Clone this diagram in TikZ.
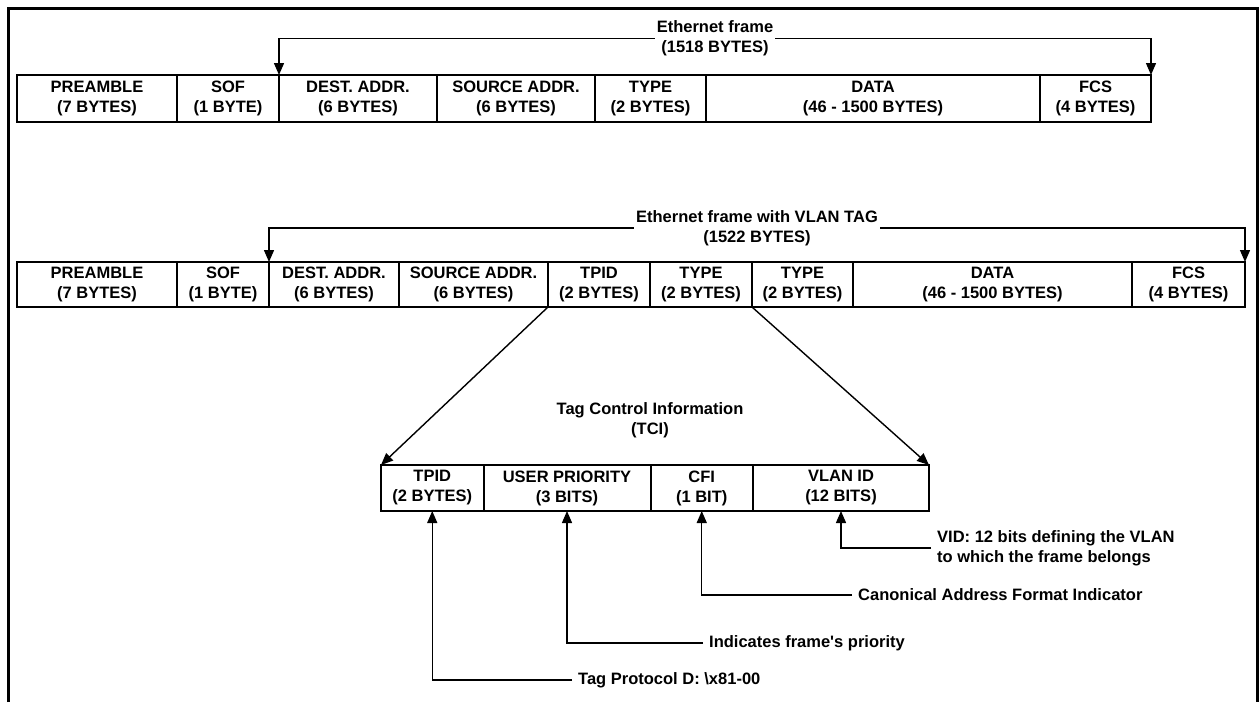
\documentclass[tikz,border=0pt]{standalone}
\usepackage{fontspec}
\setmainfont{Liberation Sans}
\usetikzlibrary{arrows.meta}
\newcommand\cellbox[6]{\node[cell, minimum width=#3pt-#2pt, minimum height=#5pt-#4pt] (#1) at ({(#2+#3)/2},{(#4+#5)/2}) {#6};}
\begin{document}
\begin{tikzpicture}[x=1pt,y=-1pt,
  font=\fontsize{16.5}{20}\selectfont\bfseries,
  cell/.style={draw, line width=2pt, align=center, inner sep=0pt, outer sep=0pt},
  conn/.style={line width=1.4pt, -{Triangle[length=12pt,width=10pt]}},
  lbl/.style={fill=white, align=center, inner sep=2pt},
  note/.style={anchor=west, align=left, inner sep=6pt}]
\useasboundingbox (0,0) rectangle (1259,702);
\draw[line width=3pt] (8,702) -- (8,8) -- (1257,8) -- (1257,702);
% row 1
\cellbox{p1}{17}{177}{75}{122}{PREAMBLE\\(7 BYTES)}
\cellbox{s1}{177}{279}{75}{122}{SOF\\(1 BYTE)}
\cellbox{d1}{279}{437}{75}{122}{DEST. ADDR.\\(6 BYTES)}
\cellbox{sa1}{437}{595}{75}{122}{SOURCE ADDR.\\(6 BYTES)}
\cellbox{t1}{595}{706}{75}{122}{TYPE\\(2 BYTES)}
\cellbox{da1}{706}{1040}{75}{122}{DATA\\(46 - 1500 BYTES)}
\cellbox{f1}{1040}{1151}{75}{122}{FCS\\(4 BYTES)}
\node[lbl] (l1) at (715,38.5) {Ethernet frame\\(1518 BYTES)};
\draw[conn] (l1.west) -| (d1.north west);
\draw[conn] (l1.east) -| (f1.north east);
% row 2
\cellbox{p2}{17}{177}{262}{307}{PREAMBLE\\(7 BYTES)}
\cellbox{s2}{177}{269}{262}{307}{SOF\\(1 BYTE)}
\cellbox{d2}{269}{399}{262}{307}{DEST. ADDR.\\(6 BYTES)}
\cellbox{sa2}{399}{548}{262}{307}{SOURCE ADDR.\\(6 BYTES)}
\cellbox{tp2}{548}{650}{262}{307}{TPID\\(2 BYTES)}
\cellbox{ty2}{650}{752}{262}{307}{TYPE\\(2 BYTES)}
\cellbox{ty3}{752}{853}{262}{307}{TYPE\\(2 BYTES)}
\cellbox{da2}{853}{1132}{262}{307}{DATA\\(46 - 1500 BYTES)}
\cellbox{f2}{1132}{1245}{262}{307}{FCS\\(4 BYTES)}
\node[lbl] (l2) at (757,228) {Ethernet frame with VLAN TAG\\(1522 BYTES)};
\draw[conn] (l2.west) -| (d2.north west);
\draw[conn] (l2.east) -| (f2.north east);
% TCI
\node[align=center] (tci) at (650,420) {Tag Control Information\\(TCI)};
\cellbox{c1}{381}{483.5}{465}{511}{TPID\\(2 BYTES)}
\cellbox{c2}{483.5}{650.5}{465}{511}{USER PRIORITY\\(3 BITS)}
\cellbox{c3}{650.5}{753}{465}{511}{CFI\\(1 BIT)}
\cellbox{c4}{753}{929}{465}{511}{VLAN ID\\(12 BITS)}
\draw[conn] (tp2.south west) -- (c1.north west);
\draw[conn] (ty2.south east) -- (c4.north east);
% callouts
\node[note] (n4) at (931,548) {VID: 12 bits defining the VLAN\\to which the frame belongs};
\node[note] (n3) at (852,595) {Canonical Address Format Indicator};
\node[note] (n2) at (703,643) {Indicates frame\textquotesingle s priority};
\node[note] (n1) at (572,680) {Tag Protocol D: \textbackslash x81-00};
\draw[conn] (n4.west) -| (c4.south);
\draw[conn] (n3.west) -| (c3.south);
\draw[conn] (n2.west) -| (c2.south);
\draw[conn] (n1.west) -| (c1.south);
\end{tikzpicture}
\end{document}
